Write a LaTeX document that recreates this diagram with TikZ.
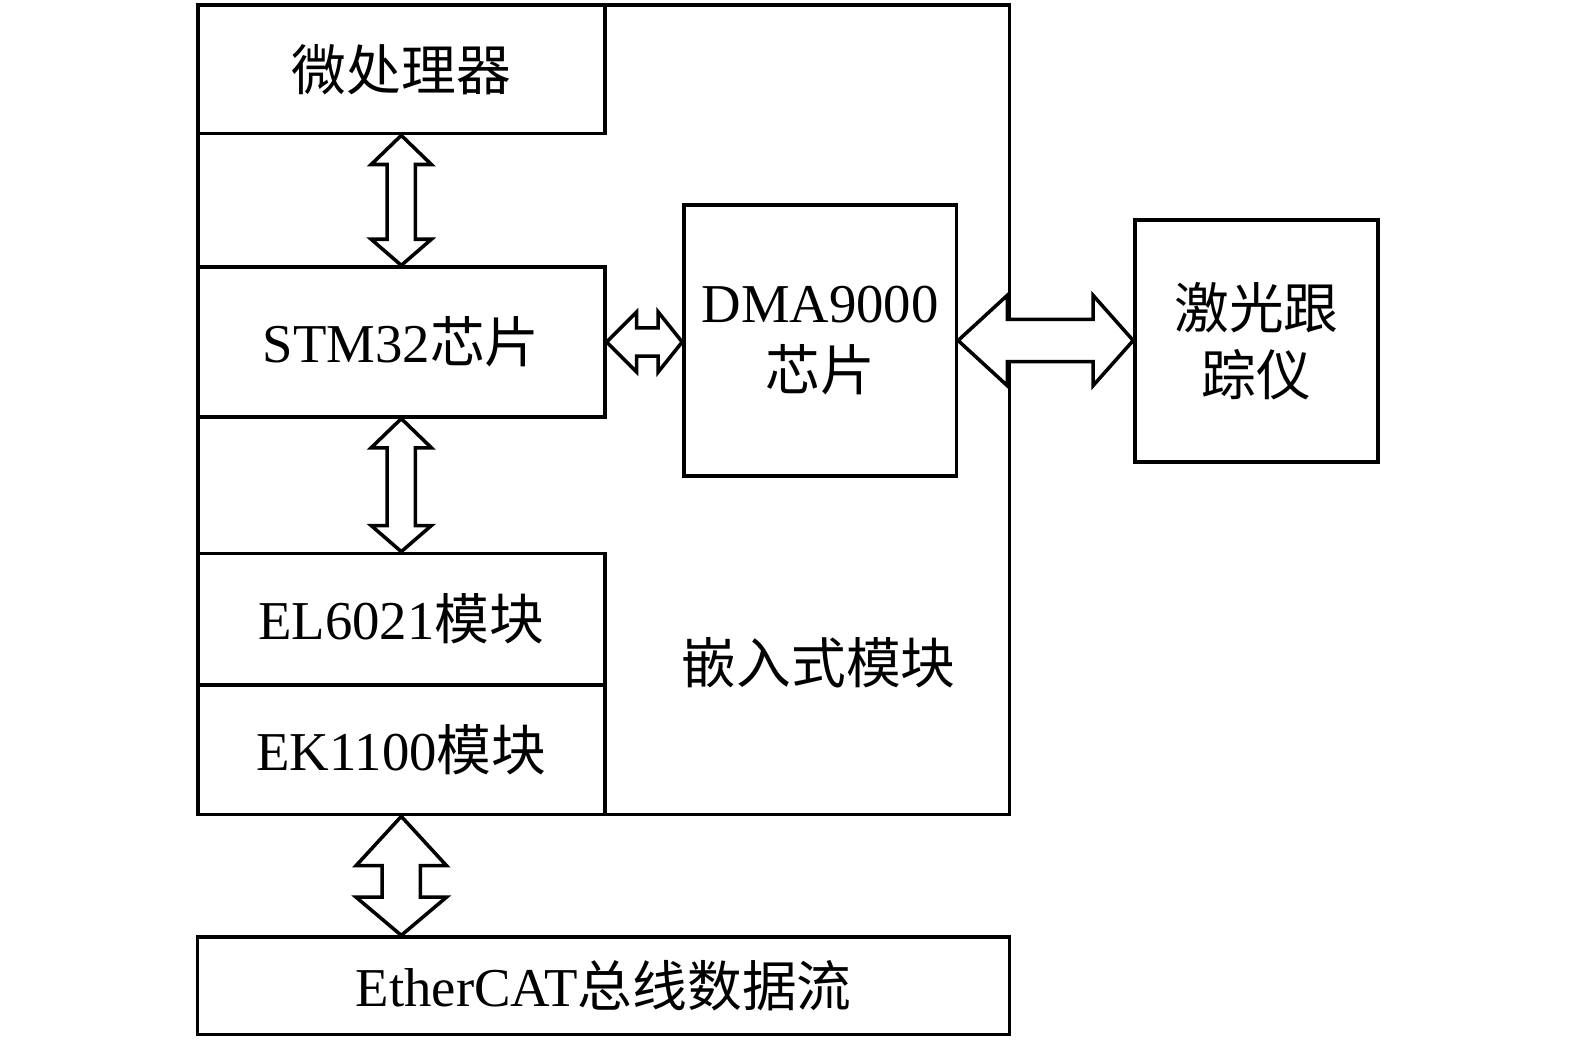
\documentclass[tikz,border=0pt]{standalone}
\usepackage{fontspec}
\setmainfont{Liberation Serif}
\newfontfamily\cjk{Noto Sans CJK SC}
\usetikzlibrary{calc}

\tikzset{
  box/.style={draw, line width=1pt, inner sep=0pt, align=center},
  fatarrow/.style={draw, fill=white, line width=1pt, line join=miter}
}

\begin{document}
\begin{tikzpicture}[x=0.01cm, y=-0.01cm, font=\fontsize{15.5}{19}\selectfont]
            \useasboundingbox (0,0) rectangle (1568,1034.5);
            % embedded module frame
            \draw[line width=1pt] (197,5) rectangle (1005,811);
            \node (emb) at (815,660) {\cjk 嵌入式模块};
            \node[box, minimum width=4.05cm, minimum height=1.28cm] (mp) at (399.5,69) {\cjk 微处理器};
            \node[box, minimum width=4.05cm, minimum height=1.49cm] (stm) at (399.5,340.5) {STM32\cjk 芯片};
            \node[box, minimum width=4.05cm, minimum height=1.31cm] (el) at (399.5,616.5) {EL6021\cjk 模块};
            \node[box, minimum width=4.05cm, minimum height=1.29cm] (ek) at (399.5,746.5) {EK1100\cjk 模块};
            \node[box, minimum width=2.71cm, minimum height=2.70cm] (dma) at (816.5,339) {DMA9000\\{\cjk 芯片}};
            \node[box, minimum width=2.42cm, minimum height=2.41cm] (laser) at (1251,339.5) {{\cjk 激光跟}\\{\cjk 踪仪}};
            \node[box, minimum width=8.08cm, minimum height=0.97cm] (bus) at (601,981.5) {EtherCAT{\cjk 总线数据流}};
            % microprocessor <-> STM32
            \coordinate (t1) at (mp.south);
            \coordinate (b1) at (stm.north);
            \draw[fatarrow] (t1) -- ++(30,29) -- ++(-16,0) -- ($(b1)+(14,-26)$) -- ++(16,0) -- (b1)
                -- ++(-30,-26) -- ++(16,0) -- ($(t1)+(-14,29)$) -- ++(-16,0) -- cycle;
            % STM32 <-> EL6021
            \coordinate (t2) at (stm.south);
            \coordinate (b2) at (el.north);
            \draw[fatarrow] (t2) -- ++(30,29) -- ++(-16,0) -- ($(b2)+(14,-26)$) -- ++(16,0) -- (b2)
                -- ++(-30,-26) -- ++(16,0) -- ($(t2)+(-14,29)$) -- ++(-16,0) -- cycle;
            % STM32 <-> DMA9000
            \coordinate (l3) at (stm.east);
            \coordinate (r3) at (stm.east -| dma.west);
            \draw[fatarrow] (l3) -- ++(30,-30) -- ++(0,16) -- ($(r3)+(-24,-14)$) -- ++(0,-16) -- (r3)
                -- ++(-24,30) -- ++(0,-16) -- ($(l3)+(30,14)$) -- ++(0,16) -- cycle;
            % DMA9000 <-> laser tracker
            \coordinate (l4) at (dma.east);
            \coordinate (r4) at (dma.east -| laser.west);
            \draw[fatarrow] (l4) -- ++(49,-45) -- ++(0,24) -- ($(r4)+(-40,-21)$) -- ++(0,-24) -- (r4)
                -- ++(-40,45) -- ++(0,-24) -- ($(l4)+(49,21)$) -- ++(0,24) -- cycle;
            % EK1100 <-> EtherCAT
            \coordinate (t5) at (ek.south);
            \coordinate (b5) at (ek.south |- bus.north);
            \draw[fatarrow] (t5) -- ++(45,49) -- ++(-26,0) -- ($(b5)+(19,-38)$) -- ++(26,0) -- (b5)
                -- ++(-45,-38) -- ++(26,0) -- ($(t5)+(-19,49)$) -- ++(-26,0) -- cycle;
        \end{tikzpicture}
\end{document}
